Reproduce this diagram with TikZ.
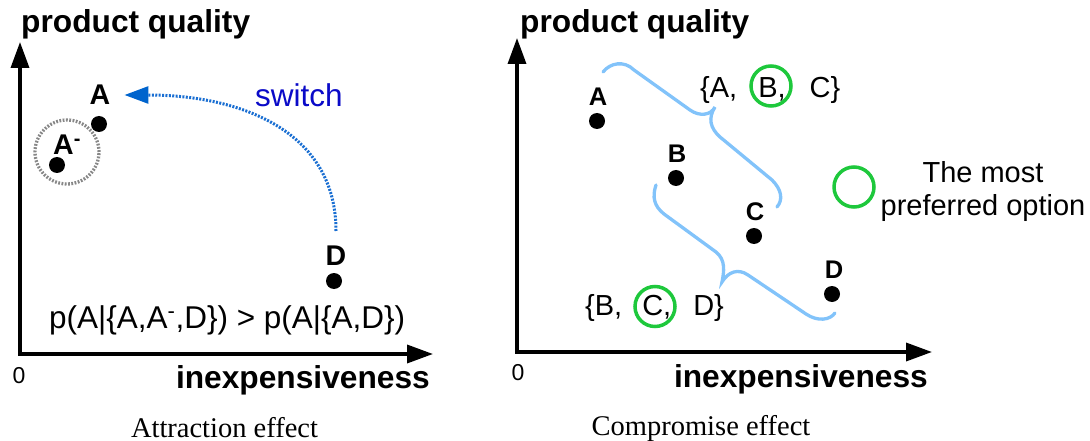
\documentclass[tikz,border=0pt]{standalone}
\usepackage{fontspec}
\setmainfont{Liberation Sans}
\newfontfamily\capfont{Liberation Serif}
\usetikzlibrary{arrows.meta}
\definecolor{SwitchBlue}{RGB}{25,110,210}
\definecolor{TipBlue}{RGB}{0,100,205}
\definecolor{WordBlue}{RGB}{10,10,200}
\definecolor{BraceBlue}{RGB}{130,195,250}
\definecolor{PickGreen}{RGB}{30,200,60}
\definecolor{RingGray}{RGB}{135,135,135}
\tikzset{
  axisline/.style={line width=3.5pt,line join=miter,
    {Triangle[length=26pt,width=18pt]}-{Triangle[length=26pt,width=18pt]}},
  axlab/.style={inner sep=0pt,font=\fontsize{31.7}{36}\selectfont\bfseries},
  zero/.style={inner sep=0pt,font=\fontsize{23}{26}\selectfont},
  captxt/.style={inner sep=0pt,font=\fontsize{28.5}{32}\selectfont\capfont},
  dot/.style={circle,fill=black,inner sep=0pt,minimum size=16pt},
  ptlab/.style={inner sep=0pt,font=\fontsize{28.5}{32}\selectfont\bfseries},
  ptlabR/.style={inner sep=0pt,font=\fontsize{25.5}{29}\selectfont\bfseries},
  formula/.style={inner sep=0pt,font=\fontsize{31.5}{36}\selectfont},
  setlab/.style={inner sep=0pt,font=\fontsize{29}{33}\selectfont},
}
\tikzset{ring/.style={circle,draw=RingGray,line width=3.3pt,dash pattern=on 1.8pt off 1.5pt,inner sep=0pt,minimum size=64pt},
  pick/.style={circle,draw=PickGreen,line width=3.5pt,inner sep=0pt,minimum size=40pt},
  switcharrow/.style={draw=SwitchBlue,line width=3pt,dash pattern=on 2pt off 1.4pt,
    -{Triangle[length=24pt,width=17pt,fill=TipBlue,color=TipBlue]}},
  brc/.style={draw=BraceBlue,line width=3.3pt,line cap=round}}

\begin{document}
\begin{tikzpicture}[x=1pt,y=-1pt]
\useasboundingbox (0,0) rectangle (1090,441);
% attraction effect
\coordinate (oL) at (20,354);
\coordinate (yL) at (20,42);
\coordinate (xL) at (433,354);
\draw[axisline] (yL) -- (oL) -- (xL);
\node[axlab,anchor=base west] (qualL) at (21,33) {product quality};
\node[axlab,anchor=base east] (costL) at (430,388) {inexpensiveness};
\node[zero] (zeroL) at (19,376) {0};
\node[captxt,anchor=base] (capL) at (224.5,437) {Attraction effect};
\node[ring] (ringAm) at (67,152) {};
\node[dot] (dA) at (99,124) {};
\node[ptlab] (lA) at (100,95) {A};
\node[dot] (dAm) at (57,165) {};
\node[ptlab,anchor=base west] (lAm) at (53,155) {A\textsuperscript{-}};
\node[dot] (dD) at (334,281) {};
\node[ptlab] (lD) at (336,256) {D};
\draw[switcharrow] ([yshift=15pt]lD.north) .. controls +(0,-100) and +(116,0) .. ([xshift=14pt]lA.east);
\node[formula,anchor=base west,text=WordBlue] (sw) at (255,107) {switch};
\node[formula,anchor=base west] (pAD) at (49,328) {p(A|\{A,A\textsuperscript{-},D\}) > p(A|\{A,D\})};
% compromise effect
\coordinate (oR) at (517,352);
\coordinate (yR) at (517,38);
\coordinate (xR) at (932,352);
\draw[axisline] (yR) -- (oR) -- (xR);
\node[axlab,anchor=base west] (qualR) at (520,33) {product quality};
\node[axlab,anchor=base east] (costR) at (928,387) {inexpensiveness};
\node[zero] (zeroR) at (518,373) {0};
\node[captxt,anchor=base] (capR) at (701,435) {Compromise effect};
\node[dot] (dRA) at (597,121) {};
\node[ptlabR] (lRA) at (598,97) {A};
\node[dot] (dRB) at (676,178) {};
\node[ptlabR] (lRB) at (677,154) {B};
\node[dot] (dRC) at (754,236) {};
\node[ptlabR] (lRC) at (755,212) {C};
\node[dot] (dRD) at (832,294) {};
\node[ptlabR] (lRD) at (834,270) {D};
\coordinate (bABCs) at (603,72);
\coordinate (bABCt) at (715,107);
\coordinate (bABCe) at (777,207);
\coordinate (bBCDs) at (656,185);
\coordinate (bBCDt) at (722,282);
\coordinate (bBCDe) at (835,313);
\draw[brc] (bABCs) .. controls (610,63) and (624,60) .. (634,70) -- (690,110)
  .. controls (700,117) and (711,115) .. (bABCt)
  .. controls (708,118) and (710,128) .. (720,137) -- (772,180)
  .. controls (782,190) and (783,200) .. (bABCe);
\draw[brc] (bBCDs) .. controls (652,197) and (654,206) .. (664,214) -- (716,252)
  .. controls (726,260) and (724,272) .. (bBCDt)
  .. controls (728,272) and (738,268) .. (748,275) -- (806,314)
  .. controls (818,322) and (830,320) .. (bBCDe);
\node[setlab,anchor=base west] (setABC) at (700,98) {\{A,\hspace{21pt}B,\hspace{24pt}C\}};
\node[setlab,anchor=base west] (setBCD) at (585,315) {\{B,\hspace{20pt}C,\hspace{22pt}D\}};
\node[pick] (pickB) at (771,86) {};
\node[pick] (pickC) at (655,306.5) {};
\node[pick] (pickKey) at (854,187) {};
\node[setlab,align=center] (keyTxt) at (983,192) {The most\\preferred option};
\end{tikzpicture}
\end{document}
